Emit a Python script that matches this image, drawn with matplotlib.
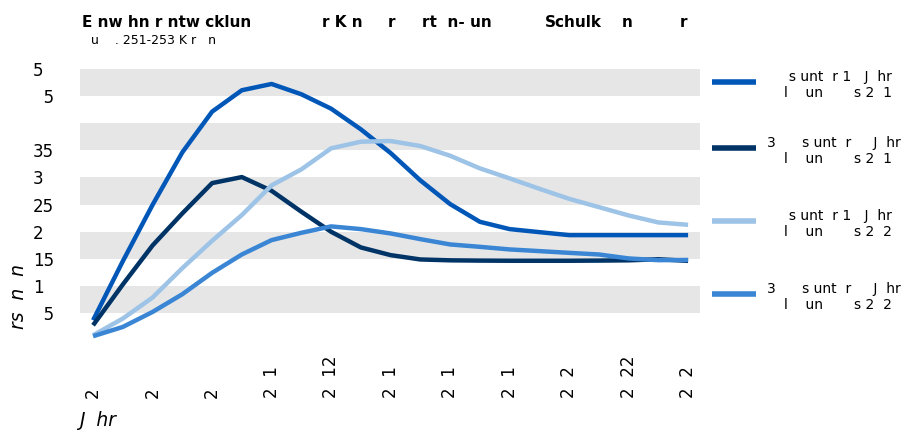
import matplotlib
matplotlib.use("Agg")
import matplotlib.pyplot as plt
from matplotlib.lines import Line2D

plt.rcParams['font.family'] = ['DejaVu Sans']

FS = '\u2007'  # figure space, holds the width of a dropped glyph

# annual values per age group
years = list(range(2004, 2025))
series_a = [365, 1455, 2495, 3463, 4213, 4608, 4724, 4534, 4268, 3887, 3450,
            2945, 2508, 2181, 2046, 1990, 1935, 1935, 1935, 1935, 1935]
series_b = [272, 1025, 1745, 2336, 2895, 3006, 2753, 2367, 1997, 1708, 1566,
            1486, 1470, 1465, 1462, 1462, 1462, 1465, 1470, 1490, 1460]
series_c = [88, 396, 784, 1326, 1830, 2305, 2853, 3148, 3536, 3659, 3671,
            3579, 3400, 3167, 2982, 2790, 2605, 2452, 2298, 2169, 2125]
series_d = [70, 241, 518, 845, 1239, 1578, 1843, 1978, 2096, 2046, 1966,
            1861, 1763, 1719, 1671, 1640, 1608, 1578, 1505, 1473, 1477]

colors = ['#0057b8', '#003366', '#9dc3e6', '#3a86d4']

xticks = list(range(2004, 2025, 2))
xtick_labels = ['2', '2', '2', '2' + FS + '1', '2' + FS + '12', '2' + FS + '1',
                '2' + FS + '1', '2' + FS + '1', '2' + FS + '2', '2' + FS + '22',
                '2' + FS + '2']
yticks = [500, 1000, 1500, 2000, 2500, 3000, 3500, 4000, 4500, 5000]
ytick_labels = [FS + '5', '1', '15', '2', '25', '3', '35', '', FS + '5', '5']
bands = [(500, 1000), (1500, 2000), (2500, 3000), (3500, 4000), (4500, 5000)]

legend_first = ['     s unt' + FS + 'r 1' + FS + ' J' + FS + 'hr',
                '3' + FS + '    s unt' + FS + 'r' + FS + FS + ' J' + FS + 'hr',
                '     s unt' + FS + 'r 1' + FS + ' J' + FS + 'hr',
                '3' + FS + '    s unt' + FS + 'r' + FS + FS + ' J' + FS + 'hr']
legend_second = ['l' + FS + '  un' + FS + FS + FS + ' s 2' + FS + '1',
                 'l' + FS + '  un' + FS + FS + FS + ' s 2' + FS + '1',
                 'l' + FS + '  un' + FS + FS + FS + ' s 2' + FS + '2',
                 'l' + FS + '  un' + FS + FS + FS + ' s 2' + FS + '2']

# heading pieces with their left edge in pixels
title_parts = [(82, 'E nw hn r ntw cklun'), (322, 'r K n'), (388, 'r'),
               (422, 'rt' + FS + 'n- un'), (545, 'Schulk'), (622, 'n'),
               (680, 'r')]
subtitle = 'u' + FS + '  . 251-253 K r' + FS + ' n'

fig = plt.figure(figsize=(9.08, 4.32), dpi=100)
W, H = 908, 432
ax = fig.add_axes([80 / W, (H - 340) / H, 620 / W, 271 / H])

for lo, hi in bands:
    ax.axhspan(lo, hi, color='#e6e6e6', lw=0, zorder=0)

for vals, c in zip([series_a, series_b, series_c, series_d], colors):
    ax.plot(years, vals, color=c, lw=3.2, solid_capstyle='butt', zorder=3)

ax.set_xlim(2003.56, 2024.4)
ax.set_ylim(0, 5000)
for s in ax.spines.values():
    s.set_visible(False)
ax.tick_params(length=0)

ax.set_xticks(xticks, xtick_labels, rotation=90, fontsize=12)
plt.setp(ax.get_xticklabels(), va='bottom')
ax.tick_params(axis='x', pad=41.5)

ax.set_yticks(yticks, ytick_labels, fontsize=12)
plt.setp(ax.get_yticklabels(), ha='left')
ax.tick_params(axis='y', pad=33.8)

# legend drawn at figure level beside the plot
row_y = [82, 148, 221, 294]
for y, c, t1, t2 in zip(row_y, colors, legend_first, legend_second):
    fig.add_artist(Line2D([712 / W, 756 / W], [(H - y) / H] * 2, color=c, lw=4,
                          solid_capstyle='butt'))
    fig.text(767 / W, (H - y + 5) / H, t1, fontsize=10, va='center', ha='left')
    fig.text(784 / W, (H - y - 11) / H, t2, fontsize=10, va='center', ha='left')

for x, t in title_parts:
    fig.text(x / W, (H - 27) / H, t, fontsize=11, fontweight='bold', va='baseline')
fig.text(91 / W, (H - 44) / H, subtitle, fontsize=9, va='baseline')

fig.text(19 / W, (H - 329) / H, 'rs' + FS + 'n' + FS + 'n', fontsize=13.5,
         style='italic', rotation=90, va='bottom', ha='center')
fig.text(79 / W, (H - 421) / H, 'J' + FS + 'hr', fontsize=13.5, style='italic',
         va='center')

fig.savefig('out.png', dpi=100)
